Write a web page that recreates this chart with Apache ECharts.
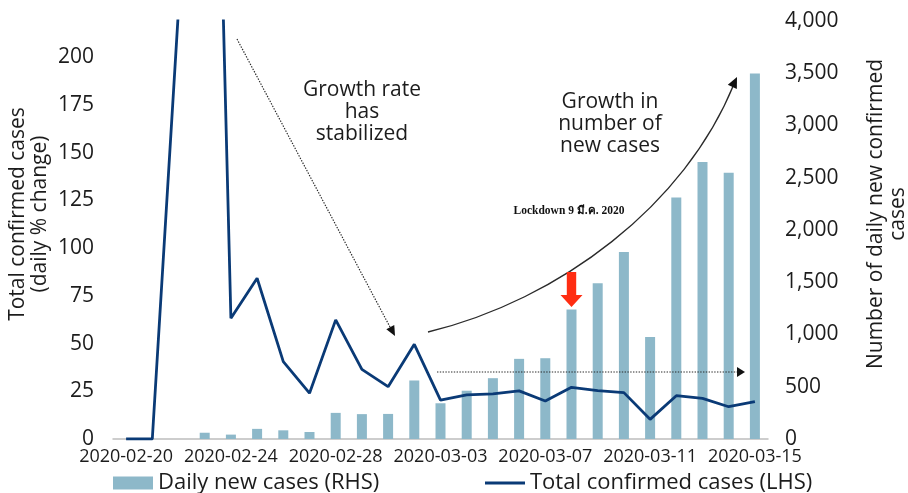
<!DOCTYPE html>
<html>
<head>
<meta charset="utf-8">
<script src="https://cdn.jsdelivr.net/npm/echarts@6/dist/echarts.min.js"></script>
<style>
  html, body { margin: 0; padding: 0; background: #ffffff; }
  #chart { width: 908px; height: 493px; }
</style>
</head>
<body>
<div id="chart"></div>
<script>
// Reporting dates (one category per day)
const dates = [
  '2020-02-20', '2020-02-21', '2020-02-22', '2020-02-23', '2020-02-24',
  '2020-02-25', '2020-02-26', '2020-02-27', '2020-02-28', '2020-02-29',
  '2020-03-01', '2020-03-02', '2020-03-03', '2020-03-04', '2020-03-05',
  '2020-03-06', '2020-03-07', '2020-03-08', '2020-03-09', '2020-03-10',
  '2020-03-11', '2020-03-12', '2020-03-13', '2020-03-14', '2020-03-15'
];

// Daily new confirmed cases (right-hand scale)
const dailyNewCases = [
  0, 0, 0, 60, 42, 97, 83, 67, 250, 238,
  240, 560, 342, 462, 582, 767, 773, 1240, 1490, 1790,
  975, 2310, 2650, 2547, 3497
];

// Total confirmed cases, daily % change (left-hand scale)
const totalPctChange = [
  0, 0, 225, 610, 63.3, 84.2, 40.5, 24.0, 62.4, 36.5,
  27.4, 49.6, 20.4, 23.1, 23.6, 25.2, 19.9, 27.1, 25.3, 24.3,
  10.3, 22.7, 21.3, 16.9, 19.6
];

const leftTicks = { min: 0, max: 219, step: 25 };
const rightTicks = { min: 0, max: 4000, step: 500 };

const seriesNames = ['Daily new cases (RHS)', 'Total confirmed cases (LHS)'];
const leftAxisTitle = 'Total confirmed cases\n(daily % change)';
const rightAxisTitle = 'Number of daily new confirmed\ncases';
const noteStable = 'Growth rate\nhas\nstabilized';
const noteGrowth = 'Growth in\nnumber of\nnew cases';
const noteLockdown = 'Lockdown 9 มี.ค. 2020';
const lockdownDate = '2020-03-08';

const FONT = '"Open Sans", "Noto Sans", sans-serif';
const INK = '#1c1c1c';
const BAR = '#8db8c9';
const LINE = '#0a3a76';

const chart = echarts.init(document.getElementById('chart'), null, { renderer: 'canvas' });

const option = {
  animation: false,
  backgroundColor: '#ffffff',
  textStyle: { fontFamily: FONT, color: INK },
  grid: { left: 113, right: 140, top: 21, bottom: 54, containLabel: false },
  legend: [
    {
      data: [{ name: seriesNames[0], icon: 'rect' }],
      left: 108, top: 467,
      itemWidth: 40, itemHeight: 13, itemGap: 0,
      textStyle: { fontFamily: FONT, fontSize: 22, color: INK }
    },
    {
      data: [{ name: seriesNames[1], icon: 'rect' }],
      left: 480, top: 467,
      itemWidth: 40, itemHeight: 3, itemGap: 0,
      textStyle: { fontFamily: FONT, fontSize: 22, color: INK }
    }
  ],
  xAxis: {
    type: 'category',
    data: dates,
    boundaryGap: true,
    axisLine: { lineStyle: { color: '#bdbdbd', width: 1.5 } },
    axisTick: { show: false },
    axisLabel: { interval: 3, fontSize: 18, color: INK, margin: 9, fontFamily: FONT }
  },
  yAxis: [
    {
      type: 'value',
      min: leftTicks.min, max: leftTicks.max, interval: leftTicks.step,
      axisLine: { show: false }, axisTick: { show: false },
      splitLine: { show: false },
      axisLabel: { fontSize: 21, color: INK, margin: 19, showMaxLabel: false, fontFamily: FONT }
    },
    {
      type: 'value',
      position: 'right',
      min: rightTicks.min, max: rightTicks.max, interval: rightTicks.step,
      axisLine: { show: false }, axisTick: { show: false },
      splitLine: { show: false },
      axisLabel: {
        fontSize: 21, color: INK, margin: 17, fontFamily: FONT,
        formatter: v => v.toLocaleString('en-US')
      }
    }
  ],
  series: [
    {
      name: seriesNames[0],
      type: 'bar',
      yAxisIndex: 1,
      data: dailyNewCases,
      barWidth: 10,
      itemStyle: { color: BAR },
      z: 2
    },
    {
      name: seriesNames[1],
      type: 'line',
      yAxisIndex: 0,
      data: totalPctChange,
      symbol: 'none',
      lineStyle: { color: LINE, width: 2.8 },
      itemStyle: { color: LINE },
      clip: true,
      z: 3
    }
  ]
};

chart.setOption(option);

// Filled triangular arrow head pointing at (tx, ty), coming from (fx, fy)
function arrowHead(tx, ty, fx, fy, len, half, color) {
  const dx = tx - fx, dy = ty - fy;
  const d = Math.hypot(dx, dy);
  const ux = dx / d, uy = dy / d;
  const bx = tx - ux * len, by = ty - uy * len;
  return {
    type: 'polygon',
    shape: { points: [[tx, ty], [bx - uy * half, by + ux * half], [bx + uy * half, by - ux * half]] },
    style: { fill: color },
    z: 10
  };
}

// Red marker above the lockdown day's bar
const lockIdx = dates.indexOf(lockdownDate);
const tip = chart.convertToPixel({ seriesIndex: 0 }, [lockIdx, dailyNewCases[lockIdx]]);
const tipX = tip[0], tipY = tip[1] - 2.5;
const redArrow = {
  type: 'polygon',
  shape: {
    points: [
      [tipX - 4.7, tipY - 35], [tipX + 4.7, tipY - 35], [tipX + 4.7, tipY - 12],
      [tipX + 11, tipY - 12], [tipX, tipY], [tipX - 11, tipY - 12], [tipX - 4.7, tipY - 12]
    ]
  },
  style: { fill: '#ff2d12' },
  z: 10
};

const dotted = { stroke: '#2a2a2a', lineWidth: 1.2, lineDash: [1.4, 1.4] };

chart.setOption({
  graphic: [
    // axis titles
    {
      type: 'text', x: 29, y: 214, rotation: Math.PI / 2,
      style: { text: leftAxisTitle, font: '21px ' + FONT, fill: INK, align: 'center', verticalAlign: 'middle', lineHeight: 22 }
    },
    {
      type: 'text', x: 887, y: 214, rotation: Math.PI / 2,
      style: { text: rightAxisTitle, font: '21px ' + FONT, fill: INK, align: 'center', verticalAlign: 'middle', lineHeight: 22 }
    },
    // notes
    {
      type: 'text', x: 362, y: 112,
      style: { text: noteStable, font: '21px ' + FONT, fill: INK, align: 'center', verticalAlign: 'middle', lineHeight: 22 }, z: 10
    },
    {
      type: 'text', x: 610, y: 124,
      style: { text: noteGrowth, font: '21px ' + FONT, fill: INK, align: 'center', verticalAlign: 'middle', lineHeight: 22 }, z: 10
    },
    {
      type: 'text', x: 569, y: 211,
      style: { text: noteLockdown, font: 'bold 11.5px "Liberation Serif", "DejaVu Serif", serif', fill: '#111', align: 'center', verticalAlign: 'middle' }, z: 10
    },
    // dotted arrow: growth rate settling
    { type: 'line', shape: { x1: 237, y1: 39, x2: 390, y2: 327 }, style: dotted, z: 10 },
    arrowHead(395, 336, 237, 39, 10, 4.5, '#111'),
    // curved arrow: accelerating new cases
    {
      type: 'bezierCurve',
      shape: { x1: 428, y1: 332, cpx1: 560, cpy1: 300, cpx2: 685, cpy2: 205, x2: 734, y2: 84 },
      style: { stroke: '#2a2a2a', lineWidth: 1.3, fill: null }, z: 10
    },
    arrowHead(737, 77, 712, 130, 11, 5, '#111'),
    // dotted horizontal arrow
    { type: 'line', shape: { x1: 437, y1: 372, x2: 739, y2: 372 }, style: dotted, z: 10 },
    arrowHead(745, 372, 437, 372, 8, 5, '#111'),
    redArrow
  ]
});
</script>
</body>
</html>
